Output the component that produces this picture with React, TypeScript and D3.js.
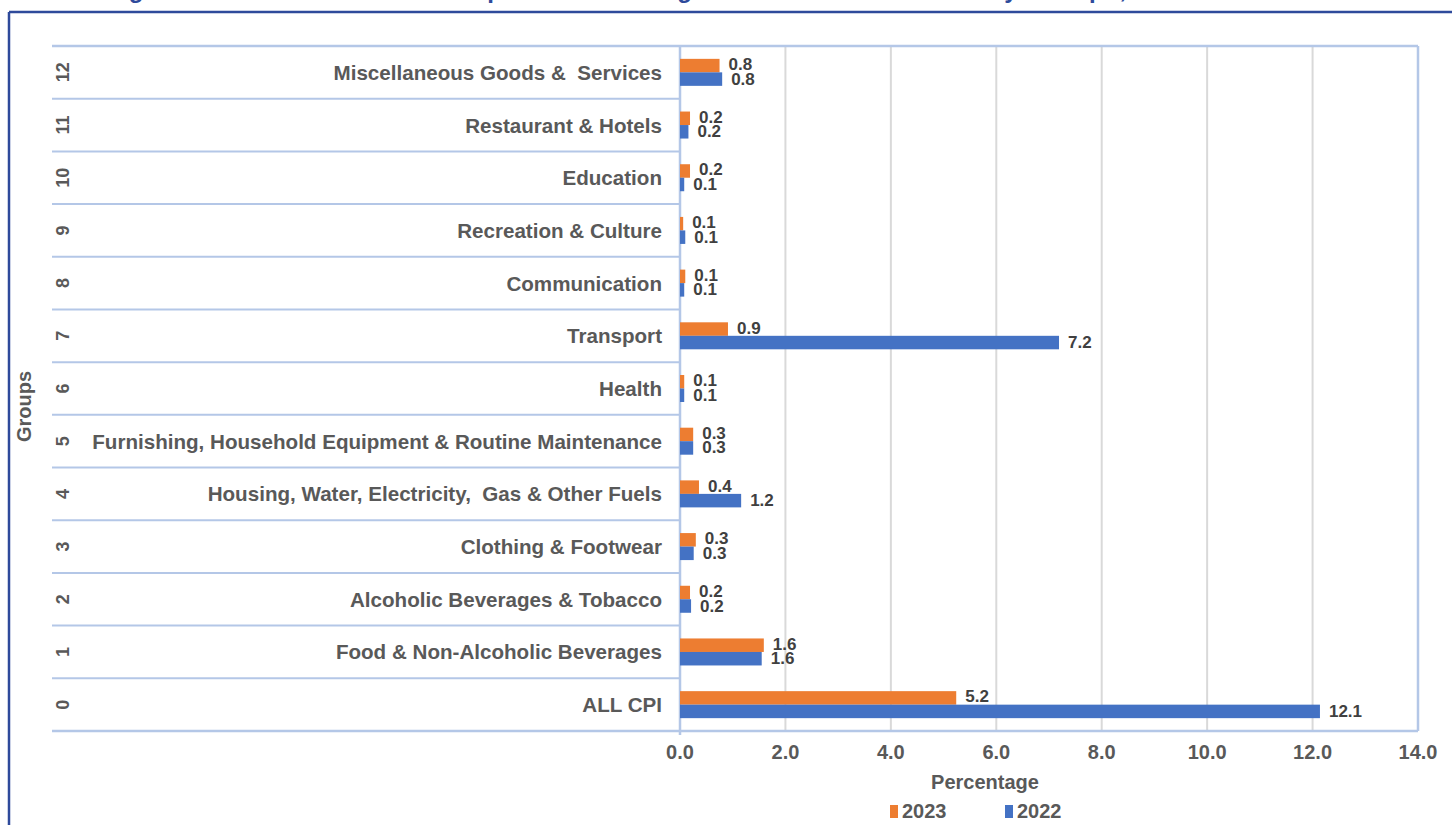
import React from 'react';
import * as d3 from 'd3';

// group numbers and names, bottom to top
const groupIds = ['0', '1', '2', '3', '4', '5', '6', '7', '8', '9', '10', '11', '12'];
const groupNames = [
  'ALL CPI',
  'Food & Non-Alcoholic Beverages',
  'Alcoholic Beverages & Tobacco',
  'Clothing & Footwear',
  'Housing, Water, Electricity,  Gas & Other Fuels',
  'Furnishing, Household Equipment & Routine Maintenance',
  'Health',
  'Transport',
  'Communication',
  'Recreation & Culture',
  'Education',
  'Restaurant & Hotels',
  'Miscellaneous Goods &  Services',
];
const values2023 = [5.24, 1.59, 0.19, 0.3, 0.36, 0.25, 0.08, 0.91, 0.1, 0.06, 0.19, 0.19, 0.75];
const values2022 = [12.14, 1.55, 0.21, 0.26, 1.16, 0.25, 0.08, 7.19, 0.08, 0.1, 0.08, 0.16, 0.8];
const xTicks = [0, 2, 4, 6, 8, 10, 12, 14];

const W = 1452;
const H = 825;
const FONT = '"Liberation Sans", Arial, Helvetica, sans-serif';
const TEXT = '#595959';
const LABEL = '#404040';
const ORANGE = '#ED7D31';
const BLUE = '#4472C4';
const FRAME = '#2E4A9B';
const BORDER = '#B4C7E7';
const GRID = '#D9D9D9';

export default function App() {
  const left = 52;
  const top = 46;
  const bottom = 731;
  const x = d3.scaleLinear().domain([0, 14]).range([680, 1418]);
  const y = d3.scaleBand<string>().domain([...groupIds].reverse()).range([top, bottom]);
  const bw = 13.5;

  return (
    <svg width={W} height={H} style={{ position: 'absolute', left: 0, top: 0, background: '#fff' }}
      fontFamily={FONT}>
      {/* title, mostly cut off at the top */}
      <text x={105} y={-2} fontSize={24} fontWeight="bold" fill={FRAME} textLength={1155}>
        Figure 3: Contribution of Groups to the Average Annual Inflation Rate by Groups, 2022-2023
      </text>
      {/* frame */}
      <line x1={9} x2={W} y1={12} y2={12} stroke={FRAME} strokeWidth={2.5} />
      <line x1={9} x2={9} y1={12} y2={H} stroke={FRAME} strokeWidth={2.5} />

      {/* vertical gridlines */}
      {xTicks.slice(1, -1).map((t) => (
        <line key={t} x1={x(t)} x2={x(t)} y1={top} y2={bottom} stroke={GRID} strokeWidth={2} />
      ))}

      {/* row separators */}
      {groupIds.map((g) => (
        <line key={g} x1={left} x2={x(0)} y1={(y(g) as number) + y.bandwidth()}
          y2={(y(g) as number) + y.bandwidth()} stroke={BORDER} strokeWidth={2} />
      ))}
      <line x1={left} x2={x(14)} y1={top} y2={top} stroke={BORDER} strokeWidth={2.5} />
      <line x1={left} x2={x(14)} y1={bottom} y2={bottom} stroke={BORDER} strokeWidth={2.5} />
      <line x1={x(0)} x2={x(0)} y1={top} y2={bottom + 4} stroke={BORDER} strokeWidth={2.5} />
      <line x1={x(14)} x2={x(14)} y1={top} y2={bottom} stroke={BORDER} strokeWidth={2.5} />

      {/* bars */}
      {groupIds.map((g, i) => {
        const c = (y(g) as number) + y.bandwidth() / 2;
        return (
          <g key={g}>
            <rect x={x(0)} y={c - bw} width={x(values2023[i]) - x(0)} height={bw} fill={ORANGE} />
            <rect x={x(0)} y={c} width={x(values2022[i]) - x(0)} height={bw} fill={BLUE} />
            <text x={x(values2023[i]) + 9} y={c - bw / 2 - 1} fontSize={17} fontWeight="bold"
              fill={LABEL} dominantBaseline="central">{values2023[i].toFixed(1)}</text>
            <text x={x(values2022[i]) + 9} y={c + bw / 2} fontSize={17} fontWeight="bold"
              fill={LABEL} dominantBaseline="central">{values2022[i].toFixed(1)}</text>
          </g>
        );
      })}

      {/* category labels */}
      {groupIds.map((g, i) => {
        const c = (y(g) as number) + y.bandwidth() / 2;
        return (
          <g key={g}>
            <text x={662} y={c} fontSize={20.6} fontWeight="bold" fill={TEXT} textAnchor="end"
              dominantBaseline="central" style={{ whiteSpace: 'pre' }}>{groupNames[i]}</text>
            <text transform={`translate(63,${c}) rotate(-90)`} fontSize={18} fontWeight="bold"
              fill={TEXT} textAnchor="middle" dominantBaseline="central">{g}</text>
          </g>
        );
      })}
      <text transform={`translate(24,${(top + bottom) / 2 + 18}) rotate(-90)`} fontSize={20}
        fontWeight="bold" fill={TEXT} textAnchor="middle" dominantBaseline="central">Groups</text>

      {/* x axis labels */}
      {xTicks.map((t) => (
        <text key={t} x={x(t)} y={752} fontSize={20} fontWeight="bold" fill={TEXT}
          textAnchor="middle" dominantBaseline="central">{t.toFixed(1)}</text>
      ))}
      <text x={985} y={782} fontSize={20} fontWeight="bold" fill={TEXT} textAnchor="middle"
        dominantBaseline="central">Percentage</text>

      {/* legend */}
      <rect x={890} y={805} width={8} height={13} fill={ORANGE} />
      <text x={902} y={811} fontSize={20} fontWeight="bold" fill={TEXT} dominantBaseline="central">2023</text>
      <rect x={1005} y={805} width={8} height={13} fill={BLUE} />
      <text x={1017} y={811} fontSize={20} fontWeight="bold" fill={TEXT} dominantBaseline="central">2022</text>
    </svg>
  );
}
